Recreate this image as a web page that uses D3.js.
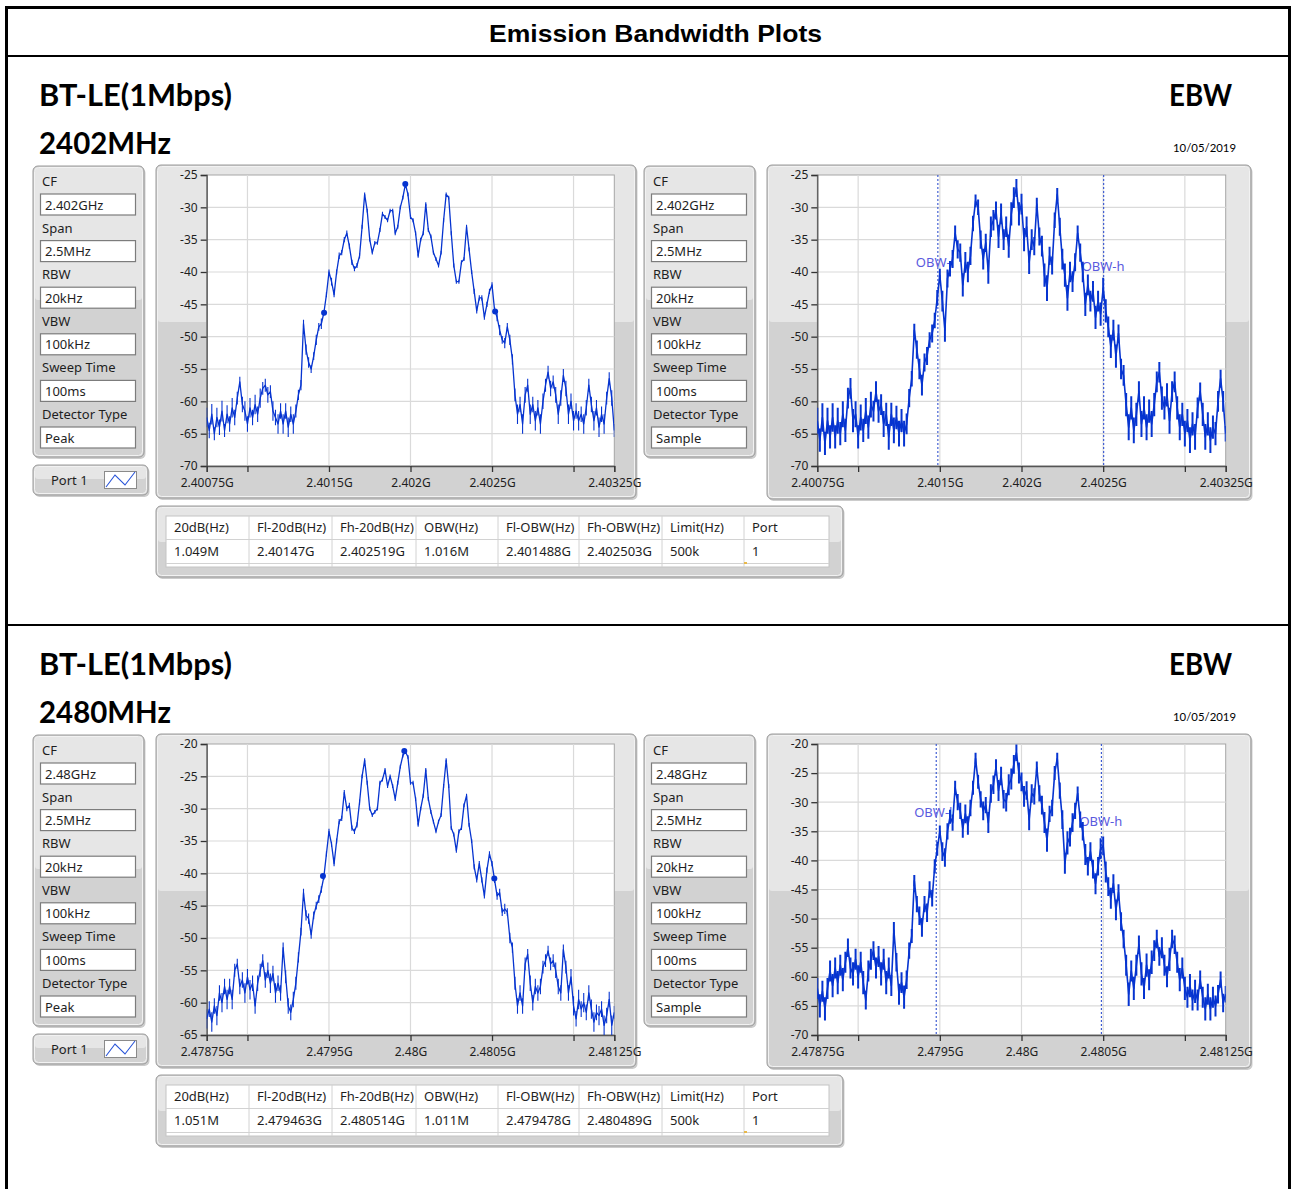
<!DOCTYPE html>
<html>
<head>
<meta charset="utf-8">
<script src="https://cdn.jsdelivr.net/npm/d3@7"></script>
<style>
  html, body { margin: 0; padding: 0; background: #ffffff; }
  svg { display: block; }
</style>
</head>
<body>
<svg id="page" width="1292" height="1189"></svg>
<script>
// ---------------------------------------------------------------
// Report data
// ---------------------------------------------------------------
const reportTitle = "Emission Bandwidth Plots";
const modeTitle = "BT-LE(1Mbps)";
const testName = "EBW";
const testDate = "10/05/2019";
const channelTitles = ["2402MHz", "2480MHz"];
const centerGHz = [2.402, 2.48];
const spanGHz = 0.0025;

const settingNames = ["CF", "Span", "RBW", "VBW", "Sweep Time", "Detector Type"];
const settings2402Peak = ["2.402GHz", "2.5MHz", "20kHz", "100kHz", "100ms", "Peak"];
const settings2402Sample = ["2.402GHz", "2.5MHz", "20kHz", "100kHz", "100ms", "Sample"];
const settings2480Peak = ["2.48GHz", "2.5MHz", "20kHz", "100kHz", "100ms", "Peak"];
const settings2480Sample = ["2.48GHz", "2.5MHz", "20kHz", "100kHz", "100ms", "Sample"];

const xTicks2402 = [2.40075, 2.401, 2.4015, 2.402, 2.4025, 2.403, 2.40325];
const xTickLabels2402 = ["2.40075G", "", "2.4015G", "2.402G", "2.4025G", "", "2.40325G"];
const xTicks2480 = [2.47875, 2.479, 2.4795, 2.48, 2.4805, 2.481, 2.48125];
const xTickLabels2480 = ["2.47875G", "", "2.4795G", "2.48G", "2.4805G", "", "2.48125G"];

const yTicksPeak2402 = [-25, -30, -35, -40, -45, -50, -55, -60, -65, -70];
const yTicksSample2402 = [-25, -30, -35, -40, -45, -50, -55, -60, -65, -70];
const yTicksPeak2480 = [-20, -25, -30, -35, -40, -45, -50, -55, -60, -65];
const yTicksSample2480 = [-20, -25, -30, -35, -40, -45, -50, -55, -60, -65, -70];

const tableHeaders = ["20dB(Hz)", "Fl-20dB(Hz)", "Fh-20dB(Hz)", "OBW(Hz)", "Fl-OBW(Hz)", "Fh-OBW(Hz)", "Limit(Hz)", "Port"];
const tableRow2402 = ["1.049M", "2.40147G", "2.402519G", "1.016M", "2.401488G", "2.402503G", "500k", "1"];
const tableRow2480 = ["1.051M", "2.479463G", "2.480514G", "1.011M", "2.479478G", "2.480489G", "500k", "1"];

// Peak-trace markers: [frequency GHz, level dBm] (Fl-20dB, peak, Fh-20dB)
const markers2402 = [[2.40147, -46.3], [2.401968, -26.4], [2.402519, -46.1]];
const markers2480 = [[2.479463, -40.4], [2.479962, -21.1], [2.480514, -40.8]];
// OBW cursor frequencies (Fl-OBW, Fh-OBW) and their label levels
const obw2402 = [2.401488, 2.402503];
const obw2480 = [2.479478, 2.480489];
const obwLabels = ["OBW-l", "OBW-h"];
const obwLabelLevels2402 = [-38.4, -39.0];
const obwLabelLevels2480 = [-31.6, -33.2];

// Spectrum traces: 161 sweep points across the 2.5 MHz span (dBm)
const peak2402 = [
  -62.5, -64.5, -62, -65, -62.5, -64, -61.5, -64.5, -62, -63.5,
  -61, -62.5, -59.5, -57, -60.5, -61.5, -63.5, -61, -62.5, -60.5,
  -62, -59.5, -58, -57.5, -59, -58.5, -61.5, -62.5, -63.5, -61.5,
  -63.5, -61.5, -64, -62, -63.5, -61.5, -59, -57.5, -48, -52,
  -54, -55, -53, -50.5, -48.5, -48, -46.3, -43.5, -40, -41.5,
  -43.5, -40, -37.5, -37, -35, -34, -36, -38.5, -39.5, -39,
  -37.5, -33, -28, -30.5, -35, -37, -35.5, -35.5, -33.5, -31,
  -31.5, -32, -30.5, -30.5, -34, -33, -30, -28.5, -26.4, -28,
  -31.5, -32, -34, -37.5, -35, -34, -29.5, -33.5, -34.5, -37,
  -38, -39, -37, -32, -28, -28.5, -34, -39, -41.5, -41.5,
  -38.5, -38, -33, -36.5, -40, -43, -46, -44, -44, -47,
  -45, -43, -42, -45.9, -47, -49, -50.5, -51, -48.5, -50.5,
  -53.5, -59, -62, -60.5, -63.5, -59, -57.5, -62, -60.5, -63,
  -61, -63.5, -60, -57.5, -55.5, -58, -57, -59, -62, -59.5,
  -56, -58, -62, -60, -63, -61.5, -63, -62, -63.5, -61,
  -57.5, -60.5, -63, -61, -64, -62, -63.5, -59.5, -56.5, -59.5,
  -64.5
];
const sample2402 = [
  -63, -66, -62.5, -66.5, -63, -65.5, -62.5, -65.5, -63, -65,
  -62, -64.5, -59.5, -58, -63, -62, -65.5, -62.5, -64.5, -61.5,
  -64, -60.5, -61.5, -58.5, -61.5, -60.5, -63.5, -62, -65.5, -62,
  -64.5, -62.5, -65, -63, -65, -63.5, -59.5, -56.5, -49, -52,
  -55, -57.5, -54, -53, -50.5, -49.5, -47.5, -44, -40.5, -44.5,
  -49, -41, -39.5, -38, -34, -36.5, -37, -42, -38.5, -40,
  -37.5, -32.5, -29, -30, -35, -38, -35.5, -40, -33, -32,
  -30.5, -34.5, -31, -35, -33, -36, -31, -28.5, -27, -31,
  -29.5, -35, -33, -38.5, -35, -36, -29.5, -34.5, -36, -40.5,
  -42.5, -37.5, -39, -32, -28, -33, -38, -40.5, -44, -40,
  -41.5, -38.5, -34, -37, -40, -45, -42, -44.5, -43, -47,
  -44.5, -46.5, -42.5, -46, -48.5, -51.5, -49, -53, -49.5, -55,
  -56, -60.5, -64, -61, -64.5, -62, -58.5, -63.5, -61, -64,
  -61.5, -63.5, -60.5, -57, -55.5, -59.5, -61, -59, -63, -58.5,
  -57, -61, -64, -62, -65, -63, -66, -63.5, -65.5, -61,
  -58.5, -62, -65.5, -63.5, -66, -64, -65, -60, -56.5, -60,
  -65
];
const peak2480 = [
  -62.5, -61, -63, -60.5, -62, -58.5, -60, -57.5, -59.5, -57.5,
  -59.5, -55, -54, -57.5, -56.5, -58.5, -56, -58, -57, -60.5,
  -57, -55, -53.5, -56.5, -55, -57, -55.5, -58.5, -57, -58.5,
  -51.5, -56, -60.5, -61.5, -59.5, -57, -53, -49, -43, -46.5,
  -47, -49.5, -46.5, -45, -44, -42.5, -40.5, -37, -33.5, -35.5,
  -38.5, -35, -32, -31.5, -27.5, -30, -29.5, -33, -33.5, -32.5,
  -29, -25, -22.5, -26, -30, -31, -30.5, -30, -26, -25.5,
  -24, -26.5, -25, -26.5, -28.5, -26, -23.5, -21.8, -21.2, -22,
  -26, -26, -28.5, -32.5, -30, -28, -24, -28.5, -30.5, -32,
  -33.5, -32, -31, -26.5, -22.5, -26.5, -33, -34, -36.5, -33.5,
  -33, -29.5, -28, -32.5, -35, -39, -41, -38.5, -41, -43.5,
  -39.5, -37, -38.5, -41, -43.5, -43, -46, -45.5, -46, -50,
  -51.5, -57, -60.5, -58.5, -60.5, -54, -52.5, -57, -60, -57.5,
  -58.5, -57.5, -54.5, -53.5, -52, -54, -53.5, -55, -57.5, -58.5,
  -51.8, -54.5, -58.5, -56, -60.5, -62.5, -59.5, -61, -60, -61.5,
  -58.5, -61, -63, -61.5, -62, -61, -63.5, -62, -59.5, -63.5,
  -61.5
];
const sample2480 = [
  -62, -65, -62.5, -65.5, -62, -59, -61.5, -58.5, -61, -58,
  -60.5, -57.5, -55, -58.5, -59.5, -57, -60, -57.5, -61, -64,
  -59, -57, -55.5, -58.5, -56.5, -59.5, -57, -61, -58.5, -61.5,
  -52, -57.5, -63, -61, -63.5, -60.5, -55.5, -53, -43.5, -47.5,
  -49.5, -51.5, -47.5, -49, -45, -46.5, -41, -38, -35, -38.5,
  -39.5, -35, -32.5, -33.5, -27.5, -30, -31.5, -34.5, -32, -34,
  -31, -27.5, -22.5, -26.5, -29.5, -31.5, -30.5, -33.5, -28.5, -27,
  -24, -28, -25.5, -29.5, -30, -27, -26, -23.5, -21.5, -25,
  -26.5, -29, -28, -33, -28.5, -29, -24, -28.5, -30.5, -33.5,
  -36.5, -32, -31, -25, -22.5, -28, -33, -40.5, -37, -36,
  -33.5, -31.5, -28.5, -33, -35, -39, -41, -38.5, -41.5, -44,
  -41, -38, -37.5, -42, -44.5, -46.5, -44, -48.5, -45.5, -50.5,
  -53.5, -58, -63, -59, -62, -58, -54.5, -59.5, -62, -58,
  -60.5, -57.5, -55.5, -53.5, -56.5, -55, -58, -60, -57, -53.5,
  -54.5, -57.5, -60.5, -58.5, -62, -63.5, -61.5, -64, -62.5, -64,
  -60.5, -63.5, -65.5, -63, -65.5, -63.5, -65, -63, -60.5, -64.5,
  -63
];

// Half-height of the min/max noise band seen at each sweep point (dB)
const peak2402Spread = [
  1.5, 1.2, 1.6, 1.0, 1.5, 1.2, 1.6, 1.0, 1.4, 1.2,
  1.5, 1.2, 1.0, 0.8, 1.2, 1.5, 1.2, 1.5, 1.2, 1.5,
  1.2, 1.5, 1.0, 1.0, 1.2, 1.0, 1.5, 1.2, 1.5, 1.2,
  1.5, 1.2, 1.5, 1.2, 1.5, 1.0, 0.8, 0.8, 0.6, 0.8,
  0.8, 0.6, 0.6, 0.8, 0.6, 0.8, 0.4, 0.4, 0.4, 0.6,
  0.4, 0.4, 0.5, 0.4, 0.4, 0.4, 0.4, 0.4, 0.4, 0.4,
  0.4, 0.3, 0.3, 0.3, 0.3, 0.3, 0.3, 0.3, 0.3, 0.3,
  0.3, 0.3, 0.3, 0.3, 0.3, 0.3, 0.3, 0.3, 0.3, 0.3,
  0.3, 0.3, 0.3, 0.3, 0.3, 0.3, 0.3, 0.3, 0.3, 0.3,
  0.3, 0.3, 0.3, 0.3, 0.3, 0.3, 0.3, 0.3, 0.3, 0.3,
  0.3, 0.3, 0.3, 0.3, 0.3, 0.4, 0.4, 0.4, 0.4, 0.4,
  0.4, 0.4, 0.4, 0.5, 0.6, 0.8, 0.6, 0.8, 0.6, 0.8,
  0.8, 1.0, 1.5, 1.2, 1.5, 1.2, 1.0, 1.5, 1.2, 1.5,
  1.2, 1.5, 1.2, 1.0, 1.0, 1.2, 1.0, 1.2, 1.5, 1.2,
  1.0, 1.2, 1.5, 1.2, 1.5, 1.2, 1.5, 1.2, 1.5, 1.2,
  1.0, 1.2, 1.5, 1.2, 1.5, 1.2, 1.5, 1.0, 1.0, 1.2,
  1.0
];
const sample2402Spread = [
  2.0, 1.8, 2.2, 1.8, 2.0, 1.8, 2.2, 1.8, 2.0, 1.8,
  2.0, 1.8, 1.6, 1.6, 1.8, 2.0, 1.8, 2.0, 1.8, 2.0,
  1.8, 2.0, 1.6, 1.6, 1.8, 1.6, 2.0, 1.8, 2.0, 1.8,
  2.0, 1.8, 2.0, 1.8, 2.0, 1.6, 1.4, 1.2, 1.0, 1.4,
  1.6, 1.6, 1.4, 1.4, 1.2, 1.4, 1.2, 1.2, 1.0, 1.6,
  1.8, 1.4, 1.2, 1.4, 1.2, 1.4, 1.4, 1.8, 1.6, 1.6,
  1.4, 1.2, 1.0, 1.2, 1.4, 1.6, 1.4, 1.8, 1.6, 1.6,
  1.4, 1.8, 1.6, 1.6, 1.6, 1.8, 1.8, 1.6, 1.4, 1.8,
  1.6, 1.8, 1.6, 1.8, 1.6, 1.4, 1.0, 1.4, 1.6, 1.8,
  2.0, 1.4, 1.4, 1.2, 1.0, 1.4, 1.6, 1.8, 2.0, 1.6,
  1.6, 1.4, 1.2, 1.4, 1.6, 1.8, 1.6, 1.6, 1.6, 1.8,
  1.6, 1.8, 1.6, 1.8, 1.6, 1.8, 1.6, 1.8, 1.4, 1.6,
  1.6, 1.8, 2.0, 1.8, 2.0, 1.8, 1.6, 2.0, 1.8, 2.0,
  1.8, 2.0, 1.8, 1.6, 1.6, 1.8, 1.8, 1.8, 2.0, 1.6,
  1.6, 1.8, 2.0, 1.8, 2.0, 1.8, 2.0, 1.8, 2.0, 1.6,
  1.4, 1.8, 2.0, 1.8, 2.0, 1.8, 1.8, 1.6, 1.4, 1.6,
  1.2
];
const peak2480Spread = [
  1.5, 1.2, 1.5, 1.2, 1.5, 1.2, 1.5, 1.2, 1.5, 1.2,
  1.5, 1.0, 0.8, 1.2, 1.2, 1.5, 1.2, 1.5, 1.2, 1.2,
  1.2, 1.0, 1.0, 1.2, 1.2, 1.5, 1.2, 1.5, 1.2, 1.2,
  0.8, 1.0, 1.2, 1.2, 1.2, 1.0, 0.8, 0.6, 0.6, 0.8,
  0.8, 0.6, 0.6, 0.6, 0.6, 0.5, 0.5, 0.4, 0.4, 0.4,
  0.4, 0.4, 0.4, 0.4, 0.4, 0.4, 0.4, 0.4, 0.4, 0.4,
  0.4, 0.3, 0.3, 0.3, 0.3, 0.3, 0.3, 0.3, 0.3, 0.3,
  0.3, 0.3, 0.3, 0.3, 0.3, 0.3, 0.3, 0.3, 0.3, 0.3,
  0.3, 0.3, 0.3, 0.3, 0.3, 0.3, 0.3, 0.3, 0.3, 0.3,
  0.3, 0.3, 0.3, 0.3, 0.3, 0.3, 0.3, 0.3, 0.3, 0.3,
  0.3, 0.3, 0.3, 0.3, 0.3, 0.4, 0.4, 0.4, 0.4, 0.4,
  0.4, 0.4, 0.4, 0.5, 0.6, 0.6, 0.6, 0.8, 0.6, 0.8,
  0.8, 1.0, 1.2, 1.2, 1.2, 1.0, 0.8, 1.2, 1.2, 1.2,
  1.2, 1.2, 1.0, 1.0, 0.8, 1.0, 1.0, 1.2, 1.2, 1.2,
  0.8, 1.0, 1.2, 1.2, 1.5, 1.2, 1.5, 1.2, 1.5, 1.2,
  1.2, 1.5, 1.5, 1.2, 1.5, 1.2, 1.5, 1.2, 1.2, 1.5,
  1.0
];
const sample2480Spread = [
  1.8, 2.0, 1.8, 2.0, 1.8, 1.8, 2.0, 1.8, 2.0, 1.8,
  2.0, 1.8, 1.6, 1.8, 2.0, 1.8, 2.0, 1.8, 2.0, 1.6,
  1.8, 1.8, 1.6, 1.8, 1.8, 2.0, 1.8, 2.0, 1.8, 1.8,
  1.4, 1.6, 1.8, 1.8, 2.0, 1.6, 1.4, 1.2, 1.0, 1.4,
  1.6, 1.6, 1.4, 1.6, 1.4, 1.4, 1.2, 1.2, 1.0, 1.6,
  1.6, 1.4, 1.2, 1.4, 1.2, 1.4, 1.4, 1.6, 1.6, 1.6,
  1.4, 1.2, 1.0, 1.2, 1.4, 1.6, 1.4, 1.8, 1.6, 1.6,
  1.4, 1.8, 1.6, 1.6, 1.6, 1.8, 1.8, 1.6, 1.4, 1.8,
  1.6, 1.8, 1.6, 1.8, 1.6, 1.4, 1.0, 1.4, 1.6, 1.8,
  2.0, 1.4, 1.4, 1.2, 1.0, 1.4, 1.6, 1.8, 2.0, 1.6,
  1.6, 1.4, 1.2, 1.4, 1.6, 1.8, 1.6, 1.6, 1.6, 1.8,
  1.6, 1.8, 1.6, 1.8, 1.6, 1.8, 1.6, 1.8, 1.4, 1.6,
  1.6, 1.8, 2.0, 1.8, 2.0, 1.8, 1.6, 2.0, 1.8, 2.0,
  1.8, 2.0, 1.8, 1.6, 1.6, 1.8, 1.8, 1.8, 2.0, 1.6,
  1.6, 1.8, 2.0, 1.8, 2.0, 1.8, 2.0, 1.8, 2.0, 1.8,
  1.6, 1.8, 2.0, 1.8, 2.0, 1.8, 1.8, 1.6, 1.4, 1.6,
  1.4
];

// ---------------------------------------------------------------
// Drawing
// ---------------------------------------------------------------
const svg = d3.select("#page");
const TRACE = "#0634d0";
const TXT = "#1e1e1e";
const UI_FONT = "'Noto Sans', 'Open Sans', sans-serif";
const HEAD_FONT = "Lato, 'Open Sans', sans-serif";

// page frame
svg.append("rect").attr("x", 6.5).attr("y", 7.5).attr("width", 1283).attr("height", 1200)
  .attr("fill", "none").attr("stroke", "#000").attr("stroke-width", 3);
svg.append("line").attr("x1", 6).attr("x2", 1290).attr("y1", 56).attr("y2", 56)
  .attr("stroke", "#000").attr("stroke-width", 2);
svg.append("line").attr("x1", 6).attr("x2", 1290).attr("y1", 625).attr("y2", 625)
  .attr("stroke", "#000").attr("stroke-width", 2);
svg.append("text").attr("x", 655.5).attr("y", 42).attr("text-anchor", "middle")
  .attr("font-family", "'Liberation Sans', Arial, sans-serif").attr("font-weight", "bold")
  .attr("font-size", 24).attr("textLength", 333).attr("lengthAdjust", "spacingAndGlyphs")
  .attr("fill", "#000").text(reportTitle);

let clipCount = 0;

// raised LabVIEW-style panel with a lighter upper area
function panel(g, x, y, w, h, splitY) {
  g.append("rect").attr("x", x + 1.5).attr("y", y + 2).attr("width", w).attr("height", h)
    .attr("rx", 5).attr("fill", "#8e8e8e").attr("opacity", 0.45);
  g.append("rect").attr("x", x).attr("y", y).attr("width", w).attr("height", h)
    .attr("rx", 5).attr("fill", "#d2d2d2").attr("stroke", "#9a9a9a").attr("stroke-width", 1);
  g.append("rect").attr("x", x + 2).attr("y", y + 2).attr("width", w - 4).attr("height", splitY - y - 2)
    .attr("rx", 3).attr("fill", "#e6e6e6");
  g.append("rect").attr("x", x + 1.5).attr("y", y + 1.5).attr("width", w - 3).attr("height", h - 3)
    .attr("rx", 4).attr("fill", "none").attr("stroke", "#f2f2f2").attr("stroke-width", 1);
}

function settingsPanel(g, x, top, values) {
  panel(g, x, top, 111, 291, top + 134);
  settingNames.forEach((name, k) => {
    const cy = top + 15 + k * 46.6;
    g.append("text").attr("x", x + 9).attr("y", cy + 5).attr("font-family", UI_FONT)
      .attr("font-size", 13).attr("fill", TXT).text(name);
    g.append("rect").attr("x", x + 7.5).attr("y", cy + 13).attr("width", 95).attr("height", 21)
      .attr("fill", "#fff").attr("stroke", "#7c7c7c").attr("stroke-width", 1.2);
    g.append("text").attr("x", x + 12).attr("y", cy + 28.5).attr("font-family", UI_FONT)
      .attr("font-size", 13).attr("fill", TXT).text(values[k]);
  });
}

function portPanel(g, x, top) {
  panel(g, x, top, 115, 30, top + 14);
  g.append("text").attr("x", x + 18).attr("y", top + 20).attr("font-family", UI_FONT)
    .attr("font-size", 13).attr("fill", TXT).text("Port 1");
  g.append("rect").attr("x", x + 71.5).attr("y", top + 6.5).attr("width", 32).attr("height", 17)
    .attr("fill", "#fff").attr("stroke", "#8a8a8a");
  g.append("path").attr("d", `M${x + 73},${top + 22} L${x + 82},${top + 10} L${x + 92},${top + 20} L${x + 102},${top + 7}`)
    .attr("fill", "none").attr("stroke", "#2a55d8").attr("stroke-width", 1.1);
}

function chart(g, box, plot, ticksX, tickLabelsX, ticksY, cf, trace, spread, opts) {
  panel(g, box.x, box.y, box.w, box.h, box.y + 157);
  const x = d3.scaleLinear().domain([cf - spanGHz / 2, cf + spanGHz / 2]).range([plot.x0, plot.x1]);
  const y = d3.scaleLinear().domain([d3.min(ticksY), d3.max(ticksY)]).range([plot.y1, plot.y0]);

  g.append("rect").attr("x", plot.x0).attr("y", plot.y0).attr("width", plot.x1 - plot.x0)
    .attr("height", plot.y1 - plot.y0).attr("fill", "#fff").attr("stroke", "#a5a5a5");

  // grid
  g.append("g").selectAll("line").data(ticksX.slice(1, -1)).join("line")
    .attr("x1", d => x(d)).attr("x2", d => x(d)).attr("y1", plot.y0).attr("y2", plot.y1)
    .attr("stroke", "#dadada").attr("stroke-width", 1.2);
  g.append("g").selectAll("line").data(ticksY.slice(1, -1)).join("line")
    .attr("x1", plot.x0).attr("x2", plot.x1).attr("y1", d => y(d)).attr("y2", d => y(d))
    .attr("stroke", "#dadada").attr("stroke-width", 1.2);

  // axes
  const ay = g.append("g").attr("transform", `translate(${plot.x0},0)`)
    .call(d3.axisLeft(y).tickValues(ticksY).tickSize(6).tickPadding(3).tickFormat(d => String(d)));
  const ax = g.append("g").attr("transform", `translate(0,${plot.y1})`)
    .call(d3.axisBottom(x).tickValues(ticksX).tickSize(6).tickPadding(6)
      .tickFormat((d, i) => tickLabelsX[i]));
  [ax, ay].forEach(a => {
    a.select(".domain").attr("stroke", "#555").attr("stroke-width", 1.3);
    a.selectAll(".tick line").attr("stroke", "#333").attr("stroke-width", 1.3);
    a.selectAll("text").attr("font-family", UI_FONT).attr("font-size", 12).attr("fill", TXT);
  });

  const id = "clip" + (clipCount++);
  g.append("clipPath").attr("id", id).append("rect")
    .attr("x", plot.x0).attr("y", plot.y0).attr("width", plot.x1 - plot.x0).attr("height", plot.y1 - plot.y0);
  const inner = g.append("g").attr("clip-path", `url(#${id})`);

  const f0 = cf - spanGHz / 2, step = spanGHz / (trace.length - 1);

  if (opts.obw) {
    inner.selectAll("line.obw").data(opts.obw).join("line").attr("class", "obw")
      .attr("x1", d => x(d)).attr("x2", d => x(d)).attr("y1", plot.y0).attr("y2", plot.y1)
      .attr("stroke", "#2f4fd0").attr("stroke-width", 1.1).attr("stroke-dasharray", "2,2");
    inner.selectAll("text.obw").data(opts.obw).join("text").attr("class", "obw")
      .attr("x", d => x(d) - 22).attr("y", (d, i) => y(opts.obwLevels[i]) + 5)
      .attr("font-family", UI_FONT).attr("font-size", 13).attr("fill", "#5a5ade")
      .text((d, i) => obwLabels[i]);
  }

  // min/max band of each sweep point
  const band = trace.map((v, i) => {
    const xx = x(f0 + i * step);
    return `M${xx},${y(v - spread[i])}L${xx},${y(v + spread[i])}`;
  }).join("");
  inner.append("path").attr("d", band).attr("fill", "none")
    .attr("stroke", TRACE).attr("stroke-width", opts.bandWidth);

  const line = d3.line().x((d, i) => x(f0 + i * step)).y(d => y(d));
  inner.append("path").datum(trace).attr("d", line).attr("fill", "none")
    .attr("stroke", TRACE).attr("stroke-width", opts.width).attr("stroke-linejoin", "round");

  if (opts.markers) {
    g.selectAll("circle.mk").data(opts.markers).join("circle").attr("class", "mk")
      .attr("cx", d => x(d[0])).attr("cy", d => y(d[1])).attr("r", 3).attr("fill", TRACE);
  }
}

function resultTable(g, top, row) {
  panel(g, 156, top, 687, 71, top + 36);
  const edges = [166, 249, 332, 416, 498, 579, 662, 744, 829];
  g.append("rect").attr("x", 166).attr("y", top + 10).attr("width", 663).attr("height", 51)
    .attr("fill", "#fff").attr("stroke", "#c4c4c4");
  g.selectAll("line.col").data(edges.slice(1, -1)).join("line").attr("class", "col")
    .attr("x1", d => d).attr("x2", d => d).attr("y1", top + 10).attr("y2", top + 61)
    .attr("stroke", "#d2d2d2");
  [top + 33.5, top + 57.5].forEach(yy => {
    g.append("line").attr("x1", 166).attr("x2", 829).attr("y1", yy).attr("y2", yy).attr("stroke", "#d2d2d2");
  });
  tableHeaders.forEach((h, k) => {
    g.append("text").attr("x", edges[k] + 8).attr("y", top + 26).attr("font-family", UI_FONT)
      .attr("font-size", 13).attr("fill", TXT).text(h);
    g.append("text").attr("x", edges[k] + 8).attr("y", top + 50).attr("font-family", UI_FONT)
      .attr("font-size", 13).attr("fill", TXT).text(row[k]);
  });
  g.append("rect").attr("x", 744).attr("y", top + 56).attr("width", 3).attr("height", 2).attr("fill", "#e8b84a");
}

const sections = [
  { title: channelTitles[0], cf: centerGHz[0], peak: peak2402, sample: sample2402,
    peakSpread: peak2402Spread, sampleSpread: sample2402Spread,
    sPeak: settings2402Peak, sSample: settings2402Sample, xt: xTicks2402, xl: xTickLabels2402,
    ytP: yTicksPeak2402, ytS: yTicksSample2402, markers: markers2402, obw: obw2402,
    obwLevels: obwLabelLevels2402, row: tableRow2402 },
  { title: channelTitles[1], cf: centerGHz[1], peak: peak2480, sample: sample2480,
    peakSpread: peak2480Spread, sampleSpread: sample2480Spread,
    sPeak: settings2480Peak, sSample: settings2480Sample, xt: xTicks2480, xl: xTickLabels2480,
    ytP: yTicksPeak2480, ytS: yTicksSample2480, markers: markers2480, obw: obw2480,
    obwLevels: obwLabelLevels2480, row: tableRow2480 }
];

sections.forEach((s, k) => {
  const g = svg.append("g").attr("transform", `translate(0,${k * 569})`);
  g.append("text").attr("x", 39).attr("y", 106).attr("font-family", HEAD_FONT).attr("font-weight", "bold")
    .attr("font-size", 30).attr("textLength", 193).attr("lengthAdjust", "spacingAndGlyphs")
    .attr("fill", "#000").text(modeTitle);
  g.append("text").attr("x", 1232).attr("y", 106).attr("text-anchor", "end").attr("font-family", HEAD_FONT)
    .attr("font-weight", "bold").attr("font-size", 30).attr("textLength", 63).attr("lengthAdjust", "spacingAndGlyphs")
    .attr("fill", "#000").text(testName);
  g.append("text").attr("x", 39).attr("y", 154).attr("font-family", HEAD_FONT).attr("font-weight", "bold")
    .attr("font-size", 30).attr("textLength", 132).attr("lengthAdjust", "spacingAndGlyphs")
    .attr("fill", "#000").text(s.title);
  g.append("text").attr("x", 1236).attr("y", 152).attr("text-anchor", "end").attr("font-family", HEAD_FONT)
    .attr("font-size", 12).attr("textLength", 63).attr("lengthAdjust", "spacingAndGlyphs")
    .attr("fill", "#000").text(testDate);

  settingsPanel(g, 33, 166, s.sPeak);
  portPanel(g, 33, 465);
  settingsPanel(g, 644, 166, s.sSample);

  chart(g, { x: 156, y: 165, w: 480, h: 333 }, { x0: 206.7, x1: 614.3, y0: 175, y1: 466 },
    s.xt, s.xl, s.ytP, s.cf, s.peak, s.peakSpread, { width: 1.3, bandWidth: 1.1, markers: s.markers });
  chart(g, { x: 767, y: 165, w: 484, h: 334 }, { x0: 817.3, x1: 1225.7, y0: 175, y1: 466 },
    s.xt, s.xl, s.ytS, s.cf, s.sample, s.sampleSpread,
    { width: 1.6, bandWidth: 2.0, obw: s.obw, obwLevels: s.obwLevels });

  resultTable(g, 506, s.row);
});
</script>
</body>
</html>
